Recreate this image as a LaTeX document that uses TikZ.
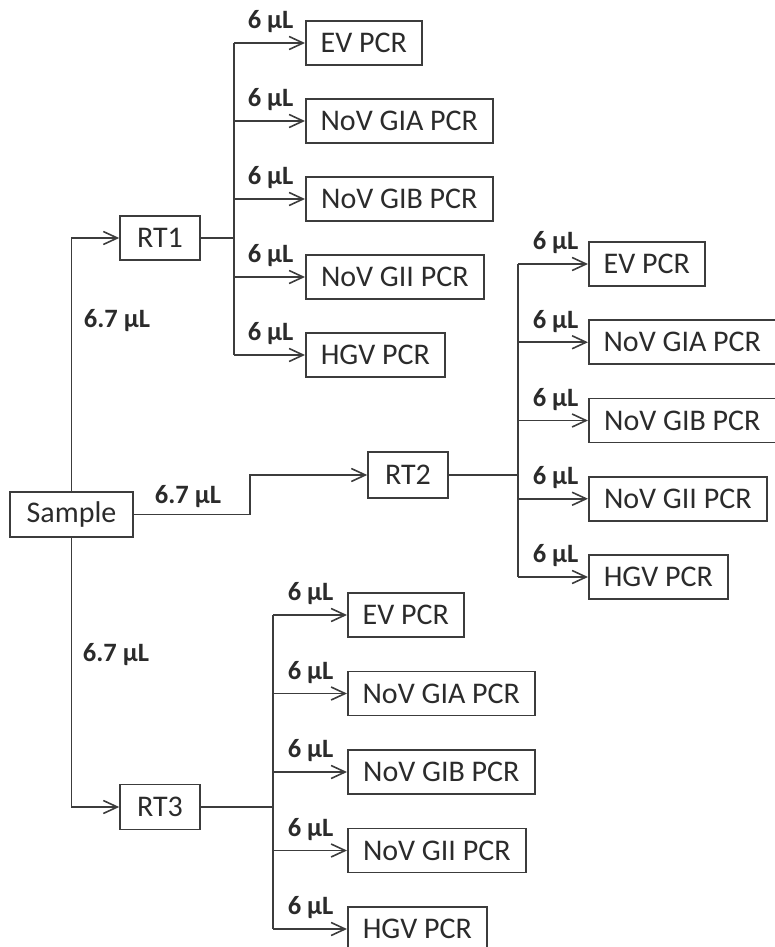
\documentclass[tikz,border=0pt]{standalone}
\usepackage{fontspec}
\setmainfont{Carlito}
\usepackage{xcolor}
\usetikzlibrary{arrows.meta,positioning}
\definecolor{flowLine}{HTML}{3C3C3C}
\definecolor{flowText}{HTML}{2B2B2B}

\begin{document}
\begin{tikzpicture}[x=1pt,y=-1pt, line width=1.6pt, color=flowLine, text=flowText,
  box/.style={draw, minimum height=44pt, inner xsep=12pt, font=\fontsize{30}{32}\selectfont},
  rtbox/.style={box, minimum width=80pt},
  pcr/.style={box, anchor=west},
  vol/.style={font=\fontsize{26.5}{28}\selectfont\bfseries, inner sep=0pt},
  feed/.style={-{Straight Barb[length=14pt,width=13pt]}}]
\useasboundingbox (0,0) rectangle (775,947);
\node[box, minimum width=123pt, minimum height=45pt] (sample) at (71.5,514.5) {Sample};
\node[rtbox] (rt1) at (160,238) {RT1};
\node[rtbox, minimum height=46pt] (rt2) at (408,475) {RT2};
\node[rtbox, minimum height=45pt] (rt3) at (160,807) {RT3};
% junctions
\coordinate (j1) at (234,238);
\coordinate (j2) at (518,475);
\coordinate (j3) at (273,807);
\coordinate (bend) at (250,475);
% sample to RT
\draw[feed] (sample.north) |- (rt1.west);
\draw[feed] (sample.east) -| (bend) -- (rt2.west);
\draw[feed] (sample.south) |- (rt3.west);
\node[vol] (v1) at (117,321) {6.7 µL};
\node[vol] (v2) at (188,497) {6.7 µL};
\node[vol] (v3) at (116,655) {6.7 µL};
% RT to PCR
\draw (rt1.east) -- (j1);
\draw (rt2.east) -- (j2);
\draw (rt3.east) -- (j3);
\foreach \lab/\w [count=\i] in {EV PCR/116, NoV GIA PCR/187, NoV GIB PCR/187, NoV GII PCR/178, HGV PCR/139}{
  \node[pcr, minimum width=\w pt] (a\i) at (305,{43+78*(\i-1)}) {\lab};
  \node[pcr, minimum width=\w pt] (b\i) at (588,{264+78.25*(\i-1)}) {\lab};
  \node[pcr, minimum width=\w pt] (c\i) at (347,{615+78.5*(\i-1)}) {\lab};
  \draw[feed] (j1 |- a\i.west) -- (a\i.west);
  \draw[feed] (j2 |- b\i.west) -- (b\i.west);
  \draw[feed] (j3 |- c\i.west) -- (c\i.west);
  \node[vol, anchor=west] (va\i) at (247,{22+78*(\i-1)}) {6 µL};
  \node[vol, anchor=west] (vb\i) at (532,{243+78.25*(\i-1)}) {6 µL};
  \node[vol, anchor=west] (vc\i) at (287,{594+78.5*(\i-1)}) {6 µL};
}
\draw (j1 |- a1.west) -- (j1 |- a5.west);
\draw (j2 |- b1.west) -- (j2 |- b5.west);
\draw (j3 |- c1.west) -- (j3 |- c5.west);
\end{tikzpicture}
\end{document}
